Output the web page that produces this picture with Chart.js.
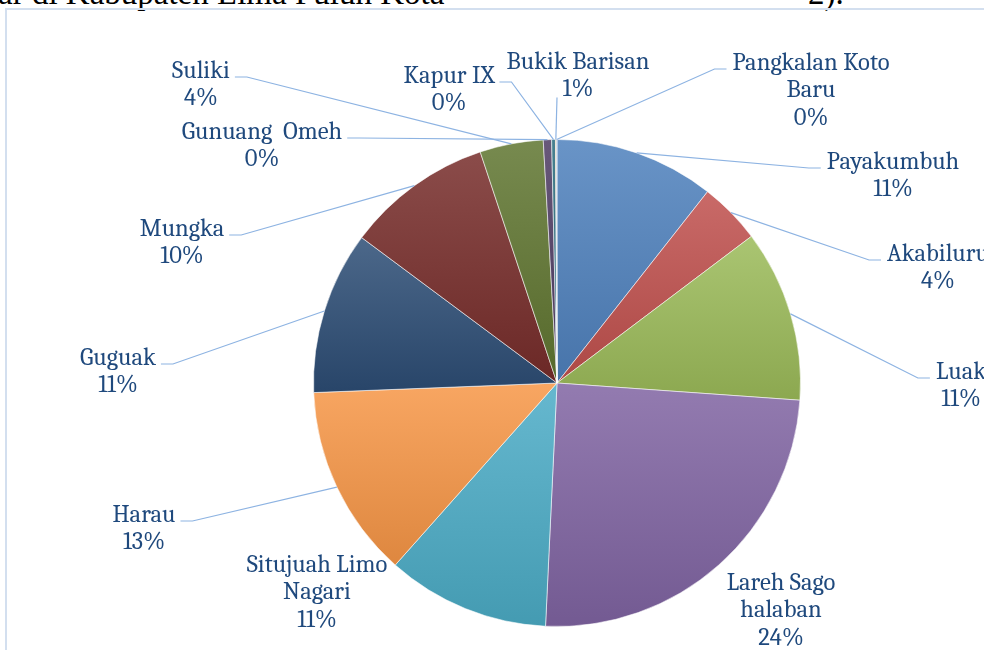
<!DOCTYPE html>
<html>
<head>
<meta charset="utf-8">
<title>Kabupaten Lima Puluh Kota</title>
<script src="https://cdn.jsdelivr.net/npm/chart.js@4.4.1/dist/chart.umd.min.js"></script>
<style>
  html, body { margin: 0; padding: 0; background: #fff; }
  #wrap { position: relative; width: 984px; height: 650px; overflow: hidden; }
  #frame {
    position: absolute; left: 5px; top: 8px; width: 1200px; height: 900px;
    border-left: 2px solid #d3dfef; border-top: 2px solid #d3dfef;
  }
  .cap {
    position: absolute; top: -25px; line-height: 33px; white-space: nowrap;
    font: 33px "Liberation Serif", "Times New Roman", serif; color: #000;
  }
  #chart { position: absolute; left: 0; top: 0; }
</style>
</head>
<body>
<div id="wrap">
  <div class="cap" style="left:-2px">ar di Kabupaten Lima Puluh Kota</div>
  <div class="cap" style="left:808px">2).</div>
  <div id="frame"></div>
  <canvas id="chart" width="984" height="650"></canvas>
</div>
<script>
// kecamatan, searah jarum jam dari atas
var categories = [
  "Payakumbuh", "Akabiluru", "Luak", "Lareh Sago\nhalaban", "Situjuah Limo\nNagari",
  "Harau", "Guguak", "Mungka", "Suliki", "Gunuang  Omeh", "Kapur IX",
  "Bukik Barisan", "Pangkalan Koto\nBaru"
];
// perkiraan bagian (%)
var values = [10.6, 4.1, 11.4, 24.6, 10.8, 12.8, 10.8, 9.7, 4.2, 0.55, 0.25, 0.05, 0.05];
// label persen seperti tertulis di gambar
var pctLabels = ["11%", "4%", "11%", "24%", "11%", "13%", "11%", "10%", "4%", "0%", "0%", "1%", "0%"];

var baseColors = [
  "#4f81bd", "#c0504d", "#9bbb59", "#8064a2", "#4bacc6", "#f79646",
  "#2c4d75", "#772c2a", "#5f7530", "#4d3b62", "#276a7c", "#b65708", "#729aca"
];

// posisi label: [x tengah, y baris pertama, sisi garis penunjuk]
var labelAt = [
  [893, 162, "left"], [938, 254, "left"], [961, 372, "left"], [781, 583, null],
  [317, 565, null], [144, 515, "right"], [118, 358, "right"], [182, 229, "right"],
  [201, 71, "right"], [262, 132, "right"], [449, 76, "right"], [578, 62, "below"],
  [811, 63, "left"]
];

var FONT = '24.6px Cambria, "Liberation Serif", "Times New Roman", serif';
var LINE_H = 27.5;

function mix(hex, target, t) {
  var n = parseInt(hex.slice(1), 16);
  var r = (n >> 16) & 255, g = (n >> 8) & 255, b = n & 255;
  var tv = target === "white" ? 255 : 0;
  r = Math.round(r + (tv - r) * t);
  g = Math.round(g + (tv - g) * t);
  b = Math.round(b + (tv - b) * t);
  return "rgb(" + r + "," + g + "," + b + ")";
}

// gradasi vertikal per irisan seperti gaya Excel 2007
var sliceGradient = {
  id: "sliceGradient",
  beforeDatasetsDraw: function (chart) {
    var ctx = chart.ctx;
    chart.getDatasetMeta(0).data.forEach(function (arc, i) {
      var p = arc.getProps(["x", "y", "startAngle", "endAngle", "outerRadius"]);
      var minY = p.y, maxY = p.y;
      for (var k = 0; k <= 40; k++) {
        var a = p.startAngle + (p.endAngle - p.startAngle) * k / 40;
        var yy = p.y + Math.sin(a) * p.outerRadius;
        if (yy < minY) minY = yy;
        if (yy > maxY) maxY = yy;
      }
      if (maxY - minY < 1) maxY = minY + 1;
      var g = ctx.createLinearGradient(0, minY, 0, maxY);
      g.addColorStop(0, mix(baseColors[i], "white", 0.15));
      g.addColorStop(1, mix(baseColors[i], "black", 0.1));
      arc.options.backgroundColor = g;
    });
  }
};

var sliceLabels = {
  id: "sliceLabels",
  afterDatasetsDraw: function (chart) {
    var ctx = chart.ctx;
    ctx.save();
    ctx.font = FONT;
    chart.getDatasetMeta(0).data.forEach(function (arc, i) {
      var p = arc.getProps(["x", "y", "startAngle", "endAngle", "outerRadius"]);
      var mid = (p.startAngle + p.endAngle) / 2;
      var ex = p.x + Math.cos(mid) * p.outerRadius;
      var ey = p.y + Math.sin(mid) * p.outerRadius;
      var lines = categories[i].split("\n").concat([pctLabels[i]]);
      var pos = labelAt[i];
      var w0 = ctx.measureText(lines[0]).width;
      var side = pos[2];

      if (side) {
        ctx.strokeStyle = "#8db3e2";
        ctx.lineWidth = 1.2;
        ctx.beginPath();
        if (side === "below") {
          ctx.moveTo(pos[0] - 21, pos[1] + LINE_H * (lines.length - 1) + 8);
          ctx.lineTo(ex, ey);
        } else {
          var ly = pos[1] + 6;
          var endX = side === "left" ? pos[0] - w0 / 2 - 6 : pos[0] + w0 / 2 + 5;
          var kneeX = side === "left" ? endX - 12 : endX + 12;
          ctx.moveTo(endX, ly);
          ctx.lineTo(kneeX, ly);
          ctx.lineTo(ex, ey);
        }
        ctx.stroke();
      }

      ctx.fillStyle = "#1f497d";
      ctx.textAlign = "center";
      ctx.textBaseline = "middle";
      lines.forEach(function (t, j) {
        ctx.fillText(t, pos[0], pos[1] + j * LINE_H);
      });
    });
    ctx.restore();
  }
};

new Chart(document.getElementById("chart"), {
  type: "pie",
  data: {
    labels: categories,
    datasets: [{
      data: values,
      backgroundColor: baseColors,
      borderColor: "rgba(255,255,255,0.55)",
      borderWidth: 1
    }]
  },
  options: {
    responsive: false,
    animation: false,
    layout: { padding: { left: 313, right: 183, top: 139, bottom: 23 } },
    plugins: { legend: { display: false }, tooltip: { enabled: false } }
  },
  plugins: [sliceGradient, sliceLabels]
});
</script>
</body>
</html>
